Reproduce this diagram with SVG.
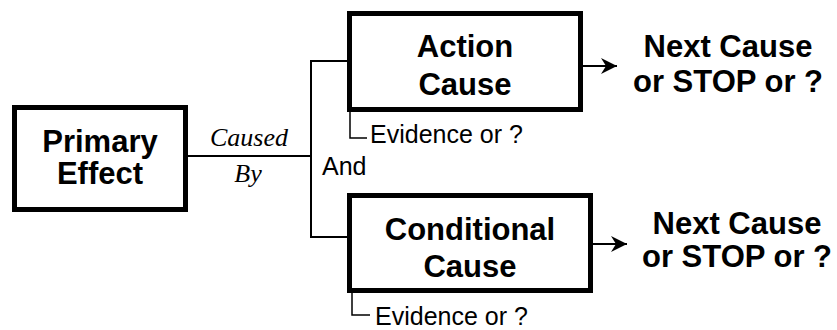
<svg xmlns="http://www.w3.org/2000/svg" width="837" height="330" viewBox="0 0 837 330">
  <style>
    .box { fill: #fff; stroke: #000; stroke-width: 5; }
    .lbl { font-family: "Liberation Sans", Arial, sans-serif; font-weight: bold; font-size: 31px; fill: #000; text-anchor: middle; }
    .ev { font-family: "Liberation Sans", Arial, sans-serif; font-size: 25px; fill: #000; }
    .ital { font-family: "Liberation Serif", "Times New Roman", serif; font-style: italic; font-size: 26px; fill: #000; text-anchor: middle; }
    .conn { fill: none; stroke: #000; stroke-width: 2; }
    .brk { fill: none; stroke: #000; stroke-width: 1.5; }
  </style>
  <defs>
    <marker id="arr" markerUnits="userSpaceOnUse" markerWidth="20" markerHeight="20" viewBox="-16 -10 20 20" refX="0" refY="0" orient="auto">
      <path d="M0,0 L-16,-8 L-11,0 L-16,8 Z" fill="#000"/>
    </marker>
  </defs>

  <g id="connectors">
    <path class="conn" d="M188,156 H311"/>
    <path class="conn" d="M311,61 V237"/>
    <path class="conn" d="M310,61 H348"/>
    <path class="conn" d="M310,237 H348"/>
    <path class="conn" d="M583,66 H617" marker-end="url(#arr)"/>
    <path class="conn" d="M593,244 H627" marker-end="url(#arr)"/>
    <text class="ital" x="249" y="146">Caused</text>
    <text class="ital" x="248" y="182">By</text>
    <text class="ev" x="322" y="175">And</text>
  </g>

  <g id="primary-effect">
    <rect class="box" x="14.5" y="107.5" width="171" height="102"/>
    <text class="lbl" x="100" y="152">Primary</text>
    <text class="lbl" x="100" y="184">Effect</text>
  </g>

  <g id="action-cause">
    <rect class="box" x="349.5" y="13.5" width="231" height="96"/>
    <text class="lbl" x="465" y="57">Action</text>
    <text class="lbl" x="465" y="95">Cause</text>
    <path class="brk" d="M350,112 V138 H367"/>
    <text class="ev" x="370" y="143">Evidence or ?</text>
  </g>

  <g id="conditional-cause">
    <rect class="box" x="349.5" y="195.5" width="241" height="95"/>
    <text class="lbl" x="470" y="240">Conditional</text>
    <text class="lbl" x="470" y="277">Cause</text>
    <path class="brk" d="M352,293 V315 H370"/>
    <text class="ev" x="375" y="325">Evidence or ?</text>
  </g>

  <g id="next-cause-1">
    <text class="lbl" x="728" y="57">Next Cause</text>
    <text class="lbl" x="728" y="92">or STOP or ?</text>
  </g>

  <g id="next-cause-2">
    <text class="lbl" x="737" y="234">Next Cause</text>
    <text class="lbl" x="737" y="267">or STOP or ?</text>
  </g>
</svg>
